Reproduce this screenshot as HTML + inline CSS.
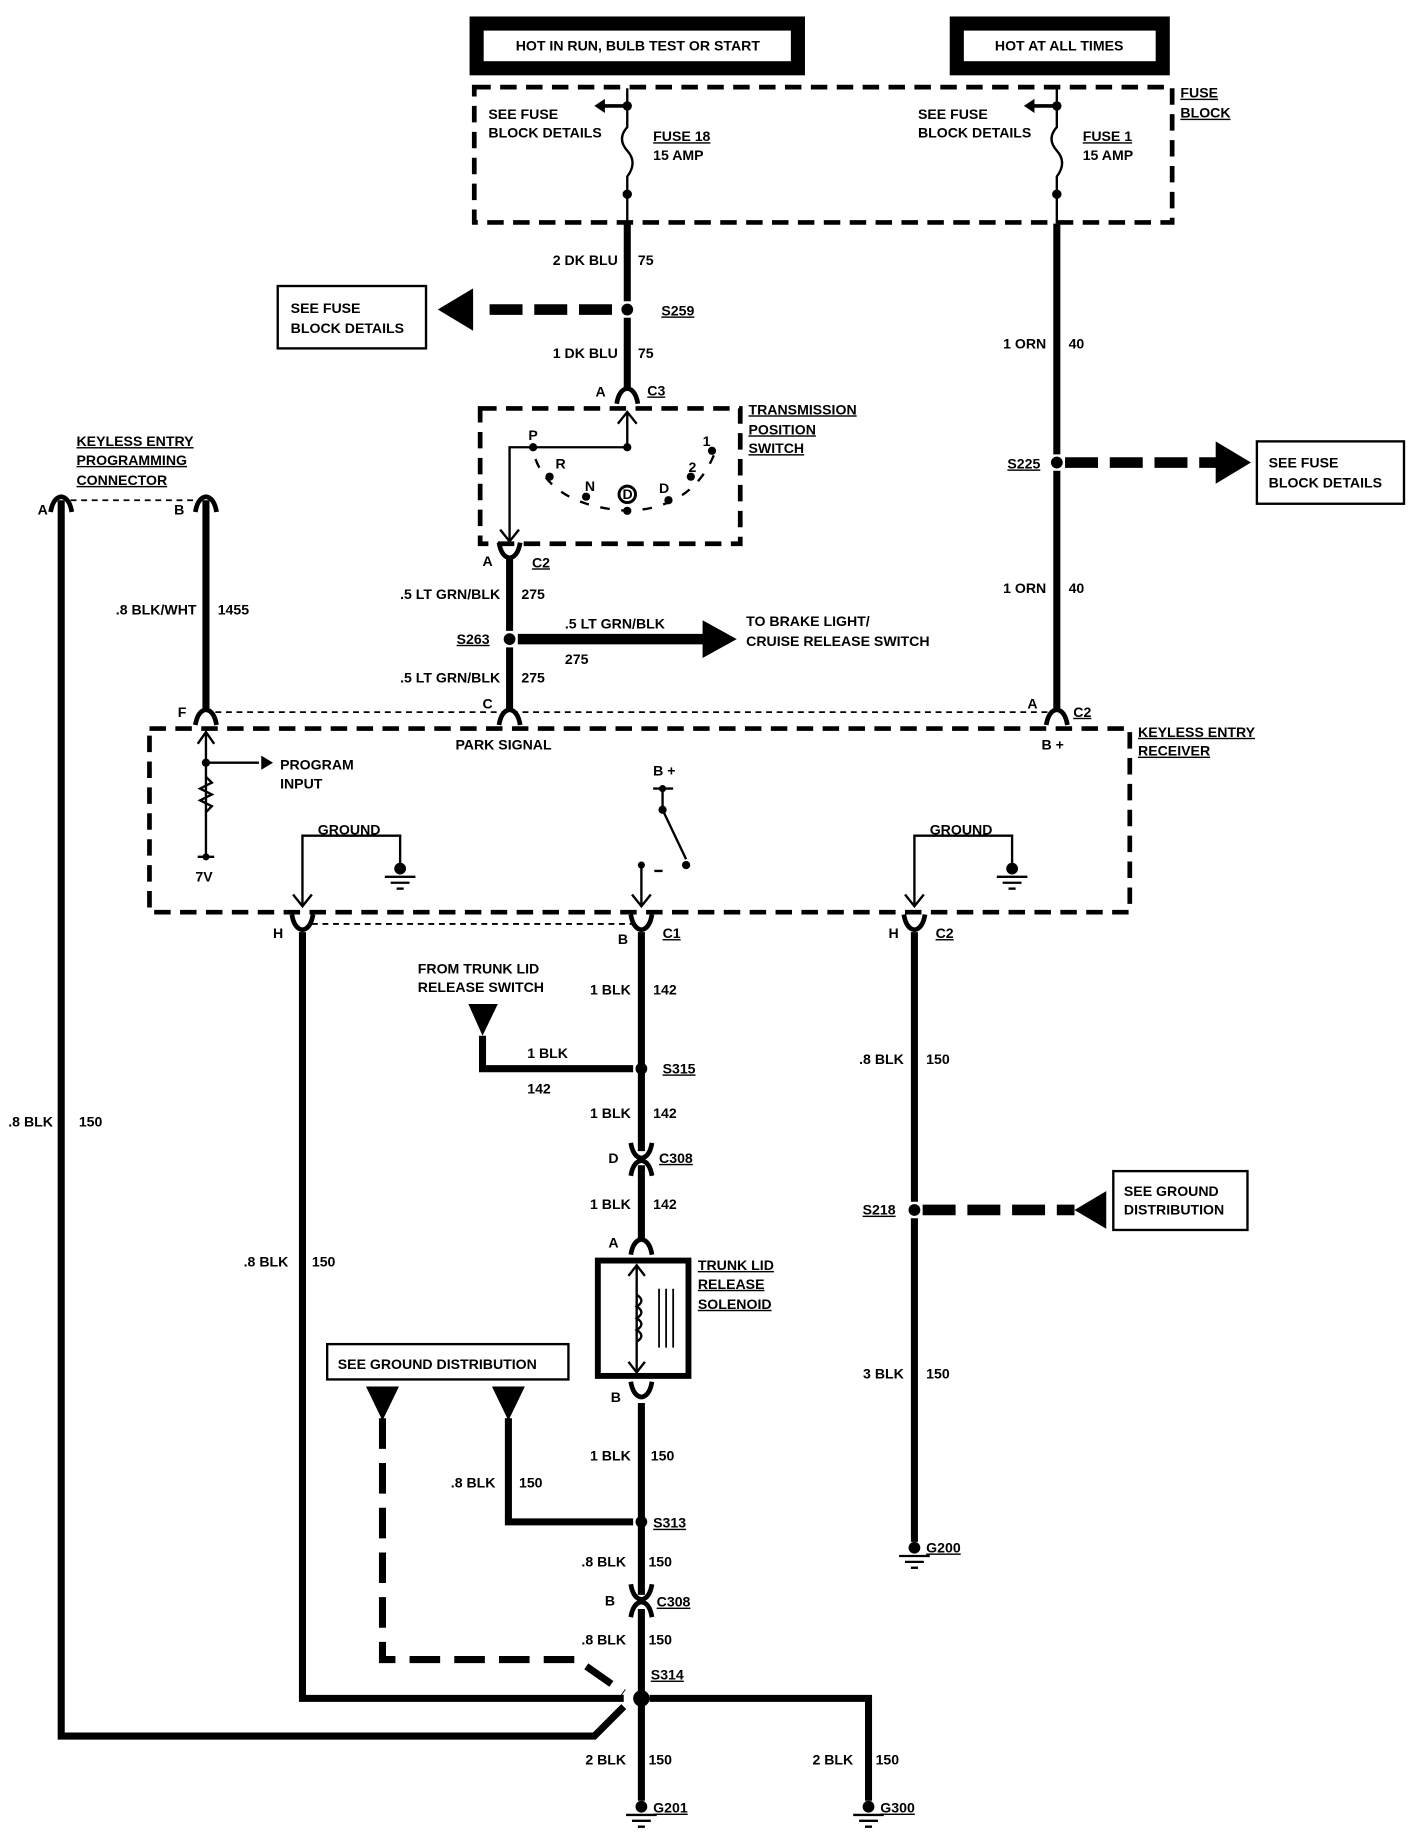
<!DOCTYPE html>
<html><head><meta charset="utf-8"><style>
html,body{margin:0;padding:0;background:#fff}
svg{display:block}
text{font-family:"Liberation Sans",sans-serif;font-weight:bold;font-size:12px;fill:#000}
</style></head><body>
<svg width="1424" height="1842" viewBox="0 0 1210 1565" preserveAspectRatio="none" xmlns="http://www.w3.org/2000/svg">
<defs>
<g id="gnd"><circle cx="0" cy="0" r="5" fill="#000"/><line x1="-13" y1="7" x2="13" y2="7" stroke="#000" stroke-width="2"/><line x1="-8" y1="12" x2="8" y2="12" stroke="#000" stroke-width="2"/><line x1="-3" y1="17" x2="3" y2="17" stroke="#000" stroke-width="2"/></g>
<g id="up"><path d="M-9,9 Q-7,-3 0,-4 Q7,-3 9,9" fill="none" stroke="#000" stroke-width="4"/></g>
<g id="dn"><path d="M-9,-9 Q-7,3 0,4 Q7,3 9,-9" fill="none" stroke="#000" stroke-width="4"/></g>
</defs>
<g fill="none" stroke="#000">
<rect x="405" y="20" width="273" height="38" stroke-width="12"/>
<rect x="813" y="20" width="175" height="38" stroke-width="12"/>
<rect x="403" y="74" width="593" height="115" stroke-width="4" stroke-dasharray="14,8"/>
<path d="M533,75 V108 Q524,118 533,128 Q542,138 533,150 V190 M898,75 V108 Q889,118 898,128 Q907,138 898,150 V190" stroke-width="2"/>
<path d="M533,90 H510 M898,90 H875" stroke-width="3"/>
<path d="M533,190 V256 M533,270 V330" stroke-width="6"/>
<path d="M898,190 V386 M898,400 V602" stroke-width="6"/>
<path d="M520,263 H410" stroke-width="9" stroke-dasharray="28,10"/>
<path d="M905,393 H1035" stroke-width="9" stroke-dasharray="28,10"/>
<rect x="236" y="243" width="126" height="53" stroke-width="2"/>
<rect x="1068" y="375" width="125" height="53" stroke-width="2"/>
<rect x="408" y="347" width="221" height="115" stroke-width="4" stroke-dasharray="14,8"/>
<path d="M533,380 V350 M525,360 L533,350 L541,360 M533,380 H433 V460 M425,450 L433,460 L441,450" stroke-width="2"/>
<path d="M455,390 Q470,430 533,434 Q590,432 608,383" stroke-width="2" stroke-dasharray="8,10"/>
<circle cx="533" cy="420" r="7" stroke-width="2.5"/>
<path d="M433,475 V536 M433,550 V602" stroke-width="6"/>
<path d="M440,543 H600" stroke-width="9"/>
<path d="M52,425 V1475 H505 L530,1450" stroke-width="6"/>
<path d="M175,425 V602" stroke-width="6"/>
<path d="M60,425 H167" stroke-width="1.5" stroke-dasharray="5,4"/>
<path d="M183,605 H890" stroke-width="1.5" stroke-dasharray="5,4"/>
<rect x="127" y="619" width="833" height="156" stroke-width="4" stroke-dasharray="14,8"/>
<path d="M175,622 V728 M168,632 L175,622 L182,632 M175,648 H220 M168,728 H182 M175,660 l5,5 l-10,5 l10,5 l-10,5 l10,5 l-5,5" stroke-width="2"/>
<path d="M257,770 V710 H340 V735 M249,760 L257,770 L265,760" stroke-width="2"/>
<path d="M777,770 V710 H860 V735 M769,760 L777,770 L785,760" stroke-width="2"/>
<path d="M555,670 H572 M563,670 V688 L583,730 M545,735 V770 M537,760 L545,770 L553,760 M556,740 H563" stroke-width="2"/>
<path d="M265,785 H537" stroke-width="1.5" stroke-dasharray="5,4"/>
<path d="M545,792 V978 M545,990 V1052 M545,1192 V1355 M545,1367 V1530" stroke-width="6"/>
<path d="M410,880 V908 H538" stroke-width="6"/>
<path d="M257,792 V1443 H530" stroke-width="6"/>
<path d="M552,1443 H738 V1530" stroke-width="6"/>
<path d="M777,792 V1021 M777,1035 V1310" stroke-width="6"/>
<path d="M784,1028 H913" stroke-width="9" stroke-dasharray="28,10"/>
<rect x="946" y="995" width="114" height="50" stroke-width="2"/>
<rect x="508" y="1071" width="77" height="98" stroke-width="5"/>
<path d="M541,1075 V1166 M534,1084 L541,1075 L548,1084 M534,1157 L541,1166 L548,1157" stroke-width="2"/>
<path d="M541,1100 q8,5 0,10 q8,5 0,10 q8,5 0,10 q8,5 0,10" stroke-width="2"/>
<path d="M560,1095 V1145 M566,1095 V1145 M572,1095 V1145" stroke-width="1.5"/>
<rect x="278" y="1142" width="205" height="30" stroke-width="2"/>
<path d="M432,1205 V1293 H538" stroke-width="6"/>
<path d="M325,1205 V1410 H490 L530,1438" stroke-width="6" stroke-dasharray="26,12"/>
</g>
<g fill="#000">
<polygon points="505,90 514,84 514,96"/><polygon points="870,90 879,84 879,96"/>
<circle cx="533" cy="90" r="4"/><circle cx="533" cy="165" r="4"/><circle cx="898" cy="90" r="4"/><circle cx="898" cy="165" r="4"/>
<polygon points="372,263 402,245 402,281"/><circle cx="533" cy="263" r="5"/>
<polygon points="1063,393 1033,375 1033,411"/><circle cx="898" cy="393" r="5"/>
<circle cx="533" cy="380" r="3.5"/><circle cx="453" cy="380" r="3.5"/><circle cx="467" cy="405" r="3.5"/><circle cx="498" cy="422" r="3.5"/><circle cx="533" cy="434" r="3.5"/><circle cx="568" cy="425" r="3.5"/><circle cx="587" cy="405" r="3.5"/><circle cx="605" cy="383" r="3.5"/>
<circle cx="433" cy="543" r="5"/><polygon points="626,543 597,527 597,559"/>
<polygon points="232,648 222,642 222,654"/><circle cx="175" cy="648" r="3.5"/><circle cx="175" cy="728" r="3"/>
<circle cx="563" cy="670" r="3"/><circle cx="563" cy="688" r="3.5"/><circle cx="583" cy="735" r="3.5"/><circle cx="545" cy="735" r="3"/>
<polygon points="398,853 423,853 410,880"/><circle cx="545" cy="908" r="5"/>
<circle cx="777" cy="1028" r="5"/><polygon points="913,1028 940,1012 940,1044"/>
<polygon points="311,1178 339,1178 325,1207"/><polygon points="418,1178 446,1178 432,1207"/>
<circle cx="545" cy="1293" r="5"/><circle cx="545" cy="1443" r="7"/>
</g>
<use href="#gnd" x="340" y="738"/><use href="#gnd" x="860" y="738"/>
<use href="#gnd" x="777" y="1315"/><use href="#gnd" x="545" y="1535"/><use href="#gnd" x="738" y="1535"/>
<use href="#up" x="533" y="334"/><use href="#dn" x="433" y="470"/>
<use href="#up" x="52" y="426"/><use href="#up" x="175" y="426"/>
<use href="#up" x="175" y="607"/><use href="#up" x="433" y="607"/><use href="#up" x="898" y="607"/>
<use href="#dn" x="257" y="786"/><use href="#dn" x="545" y="786"/><use href="#dn" x="777" y="786"/>
<use href="#dn" x="545" y="980"/><use href="#up" x="545" y="990"/>
<use href="#up" x="545" y="1057"/><use href="#dn" x="545" y="1183"/>
<use href="#dn" x="545" y="1355"/><use href="#up" x="545" y="1365"/>
<text x="542" y="43" text-anchor="middle">HOT IN RUN, BULB TEST OR START</text>
<text x="900" y="43" text-anchor="middle">HOT AT ALL TIMES</text>
<text x="1003" y="83" text-decoration="underline">FUSE</text><text x="1003" y="100" text-decoration="underline">BLOCK</text>
<text x="415" y="101">SEE FUSE</text><text x="415" y="117">BLOCK DETAILS</text>
<text x="555" y="120" text-decoration="underline">FUSE 18</text><text x="555" y="136">15 AMP</text>
<text x="780" y="101">SEE FUSE</text><text x="780" y="117">BLOCK DETAILS</text>
<text x="920" y="120" text-decoration="underline">FUSE 1</text><text x="920" y="136">15 AMP</text>
<text x="525" y="225" text-anchor="end">2 DK BLU</text><text x="542" y="225">75</text>
<text x="247" y="266">SEE FUSE</text><text x="247" y="283">BLOCK DETAILS</text>
<text x="562" y="268" text-decoration="underline">S259</text>
<text x="525" y="304" text-anchor="end">1 DK BLU</text><text x="542" y="304">75</text>
<text x="506" y="337">A</text><text x="550" y="336" text-decoration="underline">C3</text>
<text x="636" y="352" text-decoration="underline">TRANSMISSION</text><text x="636" y="369" text-decoration="underline">POSITION</text><text x="636" y="385" text-decoration="underline">SWITCH</text>
<text x="449" y="374" font-size="11">P</text><text x="472" y="398" font-size="11">R</text><text x="497" y="417" font-size="11">N</text><text x="529" y="424" font-size="10">D</text><text x="560" y="419" font-size="11">D</text><text x="585" y="401" font-size="11">2</text><text x="597" y="379" font-size="11">1</text>
<text x="410" y="481">A</text><text x="452" y="482" text-decoration="underline">C2</text>
<text x="425" y="509" text-anchor="end">.5 LT GRN/BLK</text><text x="443" y="509">275</text>
<text x="388" y="547" text-decoration="underline">S263</text>
<text x="480" y="534">.5 LT GRN/BLK</text><text x="480" y="564">275</text>
<text x="634" y="532">TO BRAKE LIGHT/</text><text x="634" y="549">CRUISE RELEASE SWITCH</text>
<text x="425" y="580" text-anchor="end">.5 LT GRN/BLK</text><text x="443" y="580">275</text>
<text x="889" y="296" text-anchor="end">1 ORN</text><text x="908" y="296">40</text>
<text x="889" y="504" text-anchor="end">1 ORN</text><text x="908" y="504">40</text>
<text x="856" y="398" text-decoration="underline">S225</text>
<text x="1078" y="397">SEE FUSE</text><text x="1078" y="414">BLOCK DETAILS</text>
<text x="65" y="379" text-decoration="underline">KEYLESS ENTRY</text><text x="65" y="395" text-decoration="underline">PROGRAMMING</text><text x="65" y="412" text-decoration="underline">CONNECTOR</text>
<text x="32" y="437">A</text><text x="148" y="437">B</text>
<text x="167" y="522" text-anchor="end">.8 BLK/WHT</text><text x="185" y="522">1455</text>
<text x="151" y="609">F</text><text x="410" y="602">C</text><text x="873" y="602">A</text><text x="912" y="609" text-decoration="underline">C2</text>
<text x="967" y="626" text-decoration="underline">KEYLESS ENTRY</text><text x="967" y="642" text-decoration="underline">RECEIVER</text>
<text x="387" y="637">PARK SIGNAL</text><text x="885" y="637">B +</text>
<text x="238" y="654">PROGRAM</text><text x="238" y="670">INPUT</text>
<text x="166" y="749">7V</text><text x="555" y="659">B +</text>
<text x="270" y="709">GROUND</text><text x="790" y="709">GROUND</text>
<text x="232" y="797">H</text><text x="525" y="802">B</text><text x="563" y="797" text-decoration="underline">C1</text>
<text x="755" y="797">H</text><text x="795" y="797" text-decoration="underline">C2</text>
<text x="355" y="827">FROM TRUNK LID</text><text x="355" y="843">RELEASE SWITCH</text>
<text x="536" y="845" text-anchor="end">1 BLK</text><text x="555" y="845">142</text>
<text x="448" y="899">1 BLK</text><text x="448" y="929">142</text>
<text x="563" y="912" text-decoration="underline">S315</text>
<text x="536" y="950" text-anchor="end">1 BLK</text><text x="555" y="950">142</text>
<text x="517" y="988">D</text><text x="560" y="988" text-decoration="underline">C308</text>
<text x="536" y="1027" text-anchor="end">1 BLK</text><text x="555" y="1027">142</text>
<text x="517" y="1060">A</text>
<text x="593" y="1079" text-decoration="underline">TRUNK LID</text><text x="593" y="1095" text-decoration="underline">RELEASE</text><text x="593" y="1112" text-decoration="underline">SOLENOID</text>
<text x="519" y="1191">B</text>
<text x="768" y="904" text-anchor="end">.8 BLK</text><text x="787" y="904">150</text>
<text x="733" y="1032" text-decoration="underline">S218</text>
<text x="955" y="1016">SEE GROUND</text><text x="955" y="1032">DISTRIBUTION</text>
<text x="768" y="1171" text-anchor="end">3 BLK</text><text x="787" y="1171">150</text>
<text x="787" y="1319" text-decoration="underline">G200</text>
<text x="45" y="957" text-anchor="end">.8 BLK</text><text x="67" y="957">150</text>
<text x="245" y="1076" text-anchor="end">.8 BLK</text><text x="265" y="1076">150</text>
<text x="287" y="1163">SEE GROUND DISTRIBUTION</text>
<text x="536" y="1241" text-anchor="end">1 BLK</text><text x="553" y="1241">150</text>
<text x="421" y="1264" text-anchor="end">.8 BLK</text><text x="441" y="1264">150</text>
<text x="555" y="1298" text-decoration="underline">S313</text>
<text x="532" y="1331" text-anchor="end">.8 BLK</text><text x="551" y="1331">150</text>
<text x="514" y="1364">B</text><text x="558" y="1365" text-decoration="underline">C308</text>
<text x="532" y="1397" text-anchor="end">.8 BLK</text><text x="551" y="1397">150</text>
<text x="553" y="1427" text-decoration="underline">S314</text>
<text x="532" y="1499" text-anchor="end">2 BLK</text><text x="551" y="1499">150</text>
<text x="725" y="1499" text-anchor="end">2 BLK</text><text x="744" y="1499">150</text>
<text x="555" y="1540" text-decoration="underline">G201</text><text x="748" y="1540" text-decoration="underline">G300</text>
</svg>
</body></html>
